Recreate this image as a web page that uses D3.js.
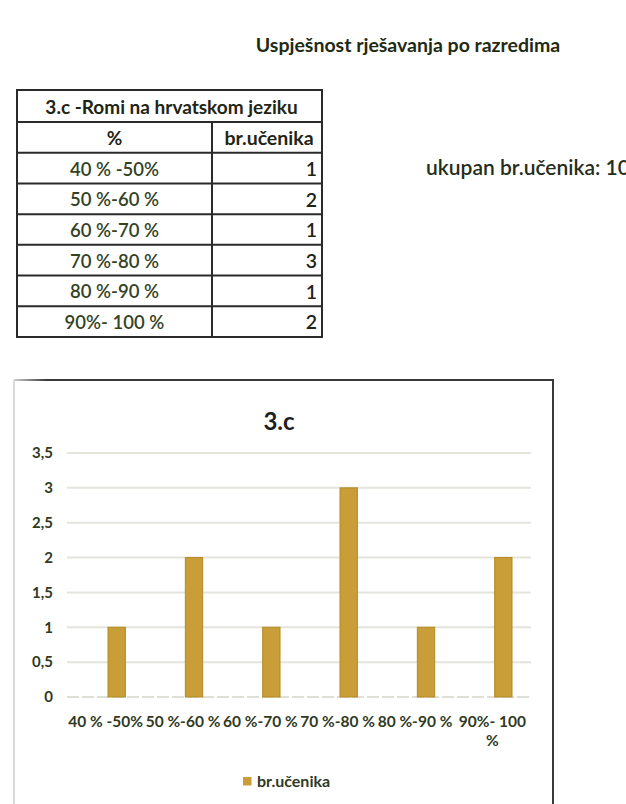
<!DOCTYPE html>
<html>
<head>
<meta charset="utf-8">
<script src="https://cdn.jsdelivr.net/npm/d3@7"></script>
<style>
  html, body { margin: 0; padding: 0; background: #fff; }
  svg { display: block; }
  text { font-family: Lato, "Open Sans", sans-serif; }
</style>
</head>
<body>
<svg id="page" width="626" height="804"></svg>
<script>
// Class 3.c – results per percentage range
const className = "3.c";
const tableTitle = "3.c -Romi na hrvatskom jeziku";
const pageTitle = "Uspješnost rješavanja po razredima";
const totalLabel = "ukupan br.učenika: 10";
const columns = ["%", "br.učenika"];
const ranges = ["40 % -50%", "50 %-60 %", "60 %-70 %", "70 %-80 %", "80 %-90 %", "90%- 100 %"];
const students = [1, 2, 1, 3, 1, 2];
const yTicks = [0, 0.5, 1, 1.5, 2, 2.5, 3, 3.5];

const ink = "#2f3a1f";
const barFill = "#c99d38";
const barStroke = "#b38a22";

const svg = d3.select("#page");

// ---- page heading -------------------------------------------------------
svg.append("text")
  .attr("x", 408).attr("y", 52)
  .attr("text-anchor", "middle")
  .attr("font-size", 19.5).attr("font-weight", 700)
  .attr("fill", "#1f2a14")
  .text(pageTitle);

svg.append("text")
  .attr("x", 426).attr("y", 175)
  .attr("font-size", 21).attr("font-weight", 600)
  .attr("fill", "#262e1c")
  .text(totalLabel);

// ---- table --------------------------------------------------------------
const tbl = { left: 17, right: 322, split: 212, top: 90, head: 32 };
const rowY = d3.scaleBand()
  .domain(d3.range(ranges.length + 1))
  .range([tbl.top + tbl.head, 337]);

const tg = svg.append("g");
const rowsData = [{ a: columns[0], b: columns[1], header: true }]
  .concat(ranges.map((r, i) => ({ a: r, b: students[i], header: false })));

// outer box and horizontal rules
tg.append("rect")
  .attr("x", tbl.left).attr("y", tbl.top)
  .attr("width", tbl.right - tbl.left).attr("height", 337 - tbl.top)
  .attr("fill", "none").attr("stroke", "#2a2a2a").attr("stroke-width", 2);
tg.selectAll("line.rule").data(d3.range(rowsData.length))
  .join("line").attr("class", "rule")
  .attr("x1", tbl.left).attr("x2", tbl.right)
  .attr("y1", i => rowY(i)).attr("y2", i => rowY(i))
  .attr("stroke", "#2a2a2a").attr("stroke-width", 2);
tg.append("line")
  .attr("x1", tbl.split).attr("x2", tbl.split)
  .attr("y1", tbl.top + tbl.head).attr("y2", 337)
  .attr("stroke", "#2a2a2a").attr("stroke-width", 2);

tg.append("text")
  .attr("x", (tbl.left + tbl.right) / 2 + 2).attr("y", tbl.top + tbl.head / 2 + 1)
  .attr("dy", "0.35em").attr("text-anchor", "middle")
  .attr("font-size", 19).attr("font-weight", 700).attr("fill", "#1f2515")
  .text(tableTitle);

const rowsG = tg.selectAll("g.row").data(rowsData).join("g")
  .attr("class", "row")
  .attr("transform", (d, i) => `translate(0,${rowY(i) + rowY.bandwidth() / 2 + 1})`);
rowsG.append("text")
  .attr("x", (tbl.left + tbl.split) / 2).attr("dy", "0.35em")
  .attr("text-anchor", "middle")
  .attr("font-size", d => d.header ? 19 : 18.5).attr("font-weight", d => d.header ? 700 : 600)
  .attr("fill", d => d.header ? "#1f2515" : "#34421f")
  .text(d => d.a);
rowsG.append("text")
  .attr("x", d => d.header ? (tbl.split + tbl.right) / 2 + 2 : tbl.right - 5)
  .attr("dy", "0.35em")
  .attr("text-anchor", d => d.header ? "middle" : "end")
  .attr("font-size", 19.5).attr("font-weight", d => d.header ? 700 : 600)
  .attr("fill", "#1f2515")
  .text(d => d.b);

// ---- chart frame --------------------------------------------------------
const frame = { left: 14, top: 380, right: 553 };
svg.append("line")
  .attr("x1", frame.left).attr("x2", frame.left)
  .attr("y1", frame.top).attr("y2", 804)
  .attr("stroke", "#cfcfcf").attr("stroke-width", 1.5);
const topGrad = svg.append("defs").append("linearGradient")
  .attr("id", "frameTop").attr("x1", "0").attr("x2", "1");
topGrad.append("stop").attr("offset", "0").attr("stop-color", "#cfcfcf");
topGrad.append("stop").attr("offset", "0.06").attr("stop-color", "#3a3a3a");
topGrad.append("stop").attr("offset", "1").attr("stop-color", "#3a3a3a");
svg.append("rect")
  .attr("x", frame.left).attr("y", frame.top - 1)
  .attr("width", frame.right - frame.left + 1).attr("height", 2)
  .attr("fill", "url(#frameTop)");
svg.append("line")
  .attr("x1", frame.right).attr("x2", frame.right)
  .attr("y1", frame.top - 1).attr("y2", 804)
  .attr("stroke", "#3a3a3a").attr("stroke-width", 2);

svg.append("text")
  .attr("x", 279).attr("y", 430)
  .attr("text-anchor", "middle")
  .attr("font-size", 24).attr("font-weight", 700)
  .attr("fill", "#1e1e1e")
  .text(className);

// ---- scales -------------------------------------------------------------
const plot = { left: 67, right: 531, top: 453, bottom: 697 };

// clustered layout: 219% gap between groups, -27% overlap between columns
const x0 = d3.scaleBand()
  .domain(ranges)
  .range([plot.left, plot.right])
  .paddingInner(2.19 / 4.46)
  .paddingOuter(2.19 / 4.46 / 2);
const x1 = d3.scaleBand()
  .domain(columns)
  .range([0, x0.bandwidth()])
  .paddingInner(0.27 / 1.27)
  .paddingOuter(0);

const y = d3.scaleLinear().domain([0, 3.5]).range([plot.bottom, plot.top]);

// gridlines
svg.append("g")
  .selectAll("line").data(yTicks.filter(t => t > 0))
  .join("line")
  .attr("x1", plot.left).attr("x2", plot.right)
  .attr("y1", d => y(d)).attr("y2", d => y(d))
  .attr("stroke", "#e3e5dc").attr("stroke-width", 2);

// category axis baseline
svg.append("line")
  .attr("x1", plot.left).attr("x2", plot.right)
  .attr("y1", y(0)).attr("y2", y(0))
  .attr("stroke", "#d3d6cc").attr("stroke-width", 1.5)
  .attr("stroke-dasharray", "12 3");

// y axis labels
const comma = d3.formatLocale({ decimal: ",", thousands: ".", grouping: [3], currency: ["", ""] }).format("~g");
const yAxis = d3.axisLeft(y).tickValues(yTicks).tickFormat(comma).tickSize(0).tickPadding(0);
const yg = svg.append("g").attr("transform", `translate(53,0)`).call(yAxis);
yg.select(".domain").remove();
yg.selectAll("text")
  .attr("font-family", "Lato, sans-serif")
  .attr("font-size", 15).attr("font-weight", 700)
  .attr("fill", ink);

// bars (the range column holds only labels, so only br.učenika is plotted)
svg.append("g")
  .selectAll("rect").data(ranges.map((r, i) => ({ r, v: students[i] })))
  .join("rect")
  .attr("x", d => x0(d.r) + x1(columns[1]))
  .attr("y", d => y(d.v))
  .attr("width", x1.bandwidth())
  .attr("height", d => y(0) - y(d.v))
  .attr("fill", barFill)
  .attr("stroke", barStroke).attr("stroke-width", 1);

// x axis labels, wrapped to the category width
const xAxis = d3.axisBottom(x0).tickSize(0).tickPadding(0).tickFormat("");
const xg = svg.append("g").attr("transform", `translate(0,${plot.bottom})`).call(xAxis);
xg.select(".domain").remove();
xg.selectAll(".tick").each(function (d) {
  const t = d3.select(this).append("text")
    .attr("text-anchor", "middle")
    .attr("font-family", "Lato, sans-serif")
    .attr("font-size", 15.5).attr("font-weight", 700)
    .attr("fill", ink);
  const maxW = x0.step();
  const words = d.split(" ");
  let line = [], lines = [];
  const probe = t.append("tspan");
  words.forEach(w => {
    const trial = line.concat(w).join(" ");
    probe.text(trial);
    if (probe.node().getComputedTextLength() > maxW && line.length) {
      lines.push(line.join(" "));
      line = [w];
    } else line.push(w);
  });
  lines.push(line.join(" "));
  probe.remove();
  lines.forEach((l, i) => t.append("tspan").attr("x", 0).attr("y", 30 + i * 19).text(l));
});

// legend
const lg = svg.append("g").attr("transform", "translate(243,777)");
lg.append("rect").attr("width", 8.5).attr("height", 8.5).attr("fill", barFill);
lg.append("text")
  .attr("x", 14).attr("y", 4.5).attr("dy", "0.35em")
  .attr("font-size", 16).attr("font-weight", 700)
  .attr("fill", ink)
  .text(columns[1]);
</script>
</body>
</html>
